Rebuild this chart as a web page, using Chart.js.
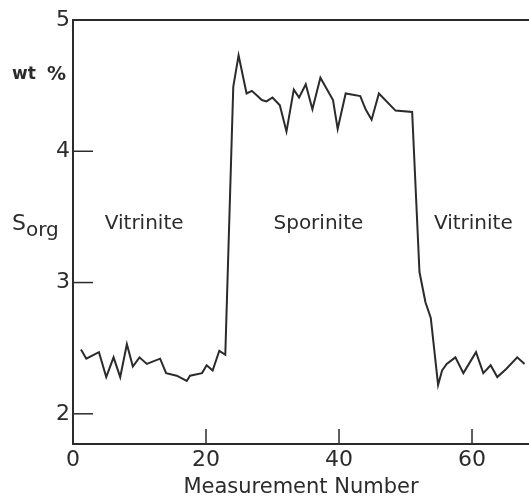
<!DOCTYPE html>
<html>
<head>
<meta charset="utf-8">
<script src="https://cdn.jsdelivr.net/npm/chart.js@4/dist/chart.umd.min.js"></script>
<style>
  html, body { margin: 0; padding: 0; background: #fff; }
  #wrap { width: 529px; height: 498px; }
</style>
</head>
<body>
<div id="wrap"><canvas id="sorgChart" width="529" height="498"></canvas></div>
<script>
let measurement = [1.2, 2.0, 3.9, 5.0, 6.1, 7.1, 8.1, 9.0, 10.0, 11.1, 13.1, 14.0, 15.6, 17.1, 17.6, 19.4, 20.1, 21.0, 22.0, 22.9,
    24.1, 24.9, 26.1, 26.9, 28.4, 29.1, 30.0, 31.1, 32.1, 33.2, 34.0, 35.0, 36.0, 37.2, 39.1, 39.8, 41.0, 43.2, 44.0, 44.9, 46.0, 48.5, 51.0,
    52.1, 53.0, 53.8, 54.9, 55.5, 56.2, 57.5, 58.7, 60.6, 61.7, 62.8, 63.8, 65.1, 66.8, 67.9];
let sorg = [2.49, 2.42, 2.47, 2.28, 2.43, 2.28, 2.53, 2.36, 2.43, 2.38, 2.42, 2.31, 2.29, 2.25, 2.29, 2.31, 2.37, 2.33, 2.48, 2.45,
    4.49, 4.73, 4.44, 4.46, 4.39, 4.38, 4.41, 4.35, 4.15, 4.47, 4.41, 4.51, 4.32, 4.56, 4.39, 4.17, 4.44, 4.42, 4.32, 4.24, 4.44, 4.31, 4.30,
    3.08, 2.85, 2.73, 2.22, 2.33, 2.38, 2.43, 2.31, 2.47, 2.31, 2.37, 2.28, 2.34, 2.43, 2.38];

let xTicks = [0, 20, 40, 60];
let yTicks = [2, 3, 4, 5];
let xTickMarks = [20, 40, 60];
let yTickMarks = [2, 3, 4];

let regionLabels = ['Vitrinite', 'Sporinite', 'Vitrinite'];
let regionCenters = [10.7, 36.9, 60.2];

let ink = '#2b2b2b';
let fontFamily = '"DejaVu Sans", sans-serif';

let decorPlugin = {
    id: 'decor',
    afterDraw(chart) {
        let ctx = chart.ctx;
        let area = chart.chartArea;
        let xs = chart.scales.x;
        let ys = chart.scales.y;
        ctx.save();
        ctx.strokeStyle = ink;
        ctx.lineWidth = 2;
        // top frame line
        ctx.beginPath();
        ctx.moveTo(area.left - 1, area.top);
        ctx.lineTo(area.right, area.top);
        ctx.stroke();
        // inward ticks
        ctx.lineWidth = 1.5;
        xTickMarks.forEach(v => {
            let px = xs.getPixelForValue(v);
            ctx.beginPath();
            ctx.moveTo(px, area.bottom);
            ctx.lineTo(px, area.bottom - 15);
            ctx.stroke();
        });
        yTickMarks.forEach(v => {
            let py = ys.getPixelForValue(v);
            ctx.beginPath();
            ctx.moveTo(area.left, py);
            ctx.lineTo(area.left + 20, py);
            ctx.stroke();
        });
        // region names
        ctx.fillStyle = ink;
        ctx.font = '20px ' + fontFamily;
        ctx.textAlign = 'center';
        ctx.textBaseline = 'alphabetic';
        regionLabels.forEach((t, i) => {
            ctx.fillText(t, xs.getPixelForValue(regionCenters[i]), 229);
        });
        // y axis title
        ctx.textAlign = 'left';
        ctx.font = 'bold 17px ' + fontFamily;
        ctx.fillText('wt', 12, 79);
        ctx.font = 'bold 19px ' + fontFamily;
        ctx.fillText('%', 47, 80);
        ctx.font = '22px ' + fontFamily;
        ctx.fillText('S', 12, 230);
        ctx.font = '20px ' + fontFamily;
        ctx.fillText('org', 26, 236);
        ctx.restore();
    }
};

let ctx = document.getElementById('sorgChart').getContext('2d');

window.sorgLine = new Chart(ctx, {
    type: 'line',
    data: {
        datasets: [{
            label: 'Sorg',
            data: measurement.map((m, i) => ({ x: m, y: sorg[i] })),
            borderColor: ink,
            borderWidth: 2,
            pointRadius: 0,
            tension: 0,
            fill: false
        }]
    },
    options: {
        responsive: false,
        animation: false,
        layout: { padding: { top: 20, right: 0, left: 0, bottom: 0 } },
        plugins: { legend: { display: false }, tooltip: { enabled: false } },
        scales: {
            x: {
                type: 'linear',
                min: 0,
                max: 68.57,
                afterBuildTicks: s => { s.ticks = xTicks.map(v => ({ value: v })); },
                afterFit: s => { s.height = 54; },
                grid: { display: false, drawTicks: false },
                border: { display: true, color: ink, width: 2 },
                ticks: { color: ink, padding: 3, maxRotation: 0, font: { family: fontFamily, size: 22 } },
                title: {
                    display: true,
                    text: 'Measurement Number',
                    color: ink,
                    padding: 0,
                    font: { family: fontFamily, size: 21, lineHeight: 1 }
                }
            },
            y: {
                min: 1.77,
                max: 5,
                afterBuildTicks: s => { s.ticks = yTicks.map(v => ({ value: v })); },
                afterFit: s => { s.width = 73; },
                grid: { display: false, drawTicks: false },
                border: { display: true, color: ink, width: 2 },
                ticks: { color: ink, padding: 3, font: { family: fontFamily, size: 22 } }
            }
        }
    },
    plugins: [decorPlugin]
});
</script>
</body>
</html>
